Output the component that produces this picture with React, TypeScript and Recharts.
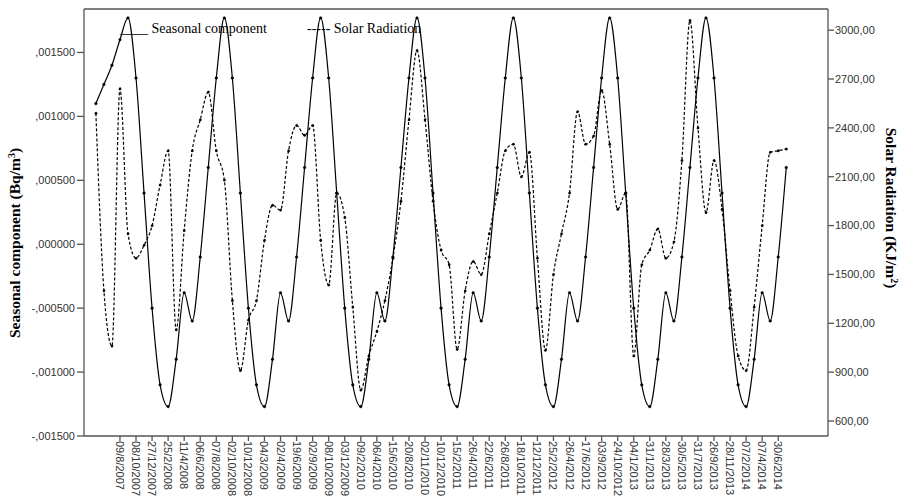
import { LineChart, Line, XAxis, YAxis, ReferenceLine } from 'recharts'

// sampling dates shown under the axis (every second sample, starting at the 4th)
const tickLabels = [
    '09/8/2007', '08/10/2007', '27/12/2007', '25/2/2008', '11/4/2008', '06/6/2008',
    '07/8/2008', '02/10/2008', '10/12/2008', '04/3/2009', '02/4/2009', '19/6/2009',
    '02/9/2009', '08/10/2009', '03/12/2009', '09/2/2010', '06/4/2010', '15/6/2010',
    '20/8/2010', '02/11/2010', '10/12/2010', '15/2/2011', '26/4/2011', '22/6/2011',
    '26/8/2011', '18/10/2011', '12/12/2011', '25/2/2012', '26/4/2012', '17/6/2012',
    '03/9/2012', '24/10/2012', '04/1/2013', '31/1/2013', '28/3/2013', '30/5/2013',
    '31/7/2013', '26/9/2013', '28/11/2013', '07/2/2014', '07/4/2014', '30/6/2014',
]

// seasonal component (Bq/m3)
const seasonal = [
    0.0011, 0.00125, 0.0014, 0.0016, 0.00177, 0.0013, 0.0004, -0.0005, -0.0011, -0.00127, -0.0009, -0.00038,
    -0.0006, -0.0001, 0.0006, 0.0013, 0.00177, 0.0013, 0.0004, -0.0005, -0.0011, -0.00127, -0.0009, -0.00038,
    -0.0006, -0.0001, 0.0006, 0.0013, 0.00177, 0.0013, 0.0004, -0.0005, -0.0011, -0.00127, -0.0009, -0.00038,
    -0.0006, -0.0001, 0.0006, 0.0013, 0.00177, 0.0013, 0.0004, -0.0005, -0.0011, -0.00127, -0.0009, -0.00038,
    -0.0006, -0.0001, 0.0006, 0.0013, 0.00177, 0.0013, 0.0004, -0.0005, -0.0011, -0.00127, -0.0009, -0.00038,
    -0.0006, -0.0001, 0.0006, 0.0013, 0.00177, 0.0013, 0.0004, -0.0005, -0.0011, -0.00127, -0.0009, -0.00038,
    -0.0006, -0.0001, 0.0006, 0.0013, 0.00177, 0.0013, 0.0004, -0.0005, -0.0011, -0.00127, -0.0009, -0.00038,
    -0.0006, -0.0001, 0.0006,
]

// solar radiation (KJ/m2)
const solar = [
    2490, 1400, 1060, 2640, 1750, 1600, 1680, 1800, 2050, 2260, 1160, 1770,
    2260, 2450, 2620, 2260, 2080, 1340, 910, 1220, 1340, 1710, 1925, 1895,
    2260, 2415, 2355, 2415, 1710, 1435, 2000, 1850, 1300, 790, 1000, 1150,
    1340, 1600, 1950, 2450, 2875, 2450, 1950, 1650, 1560, 1040, 1400, 1580,
    1500, 1750, 2000, 2260, 2300, 2100, 2250, 1600, 1035, 1500, 1750, 2000,
    2500, 2300, 2350, 2630, 2300, 1900, 2000, 1000, 1560, 1650, 1780, 1600,
    1700, 2200, 3060, 2400, 1880, 2200, 1900, 1400, 1000, 910, 1300, 1800,
    2250, 2260, 2270,
]

const leftTicks = [-0.0015, -0.001, -0.0005, 0, 0.0005, 0.001, 0.0015]
const rightTicks = [600, 900, 1200, 1500, 1800, 2100, 2400, 2700, 3000]

const data = seasonal.map((s, i) => ({ i, seasonal: s, solar: solar[i] }))
const xTicks = tickLabels.map((_, k) => 3 + 2 * k)

const frame = '#555'
const tickFont = { fontFamily: 'Liberation Sans, Arial, sans-serif', fontSize: 11, fill: '#333' }

const fmtLeft = (v: number) => {
    const n = Math.round(Math.abs(v) * 1e6)
    return (v < 0 ? '-' : '') + ',' + String(n).padStart(6, '0')
}

const DateTick = (props: any) => {
    const { x, y, payload } = props
    const label = tickLabels[(payload.value - 3) / 2]
    return (
        <text
            x={x}
            y={y}
            transform={`rotate(90, ${x}, ${y})`}
            textAnchor="start"
            dominantBaseline="central"
            {...tickFont}
        >
            {label}
        </text>
    )
}

const App = () => {
    return (
        <div style={{ position: 'absolute', left: 0, top: 0, width: 905, height: 499, background: '#fff' }}>
            <LineChart
                width={905}
                height={499}
                data={data}
                margin={{ top: 9, right: 0, bottom: 0, left: 0 }}
            >
                <XAxis
                    type="number"
                    dataKey="i"
                    domain={[-1.48, 91.2]}
                    ticks={xTicks}
                    interval={0}
                    height={63}
                    tick={<DateTick />}
                    tickSize={5}
                    tickMargin={0}
                    stroke={frame}
                    strokeWidth={1.3}
                />
                <YAxis
                    yAxisId="left"
                    domain={[-0.0015, 0.00184]}
                    ticks={leftTicks}
                    tickFormatter={fmtLeft}
                    width={84}
                    tickSize={7}
                    tickMargin={2}
                    tick={tickFont}
                    stroke={frame}
                    strokeWidth={1.3}
                    allowDataOverflow
                />
                <YAxis
                    yAxisId="right"
                    orientation="right"
                    domain={[508, 3130]}
                    ticks={rightTicks}
                    tickFormatter={(v: number) => `${v},00`}
                    width={77}
                    tickSize={6}
                    tickMargin={1}
                    tick={tickFont}
                    stroke={frame}
                    strokeWidth={1.3}
                    allowDataOverflow
                />
                <ReferenceLine yAxisId="left" y={0.00184} stroke={frame} strokeWidth={1.3} />
                <Line
                    yAxisId="left"
                    dataKey="seasonal"
                    type="monotone"
                    stroke="#000"
                    strokeWidth={1.2}
                    dot={{ r: 1.3, fill: '#000', stroke: '#000', strokeWidth: 0.5 }}
                    isAnimationActive={false}
                />
                <Line
                    yAxisId="right"
                    dataKey="solar"
                    type="monotone"
                    stroke="#000"
                    strokeWidth={1.2}
                    strokeDasharray="3 2"
                    dot={{ r: 1.2, fill: '#000', stroke: '#000', strokeWidth: 0.5 }}
                    isAnimationActive={false}
                />
            </LineChart>
            <svg
                width={905}
                height={499}
                style={{ position: 'absolute', left: 0, top: 0, pointerEvents: 'none' }}
                fontFamily="Liberation Serif, Times New Roman, serif"
            >
                <text x={120} y={33} fontSize={14} fill="#000">
                    ____ Seasonal component
                </text>
                <text x={307} y={33} fontSize={14} fill="#000">
                    ----- Solar Radiation
                </text>
                <text
                    x={20}
                    y={243}
                    transform="rotate(-90, 20, 243)"
                    textAnchor="middle"
                    fontSize={15.5}
                    fontWeight="bold"
                    fill="#000"
                >
                    Seasonal component (Bq/m<tspan dy={-5} fontSize={10}>3</tspan><tspan dy={5}>)</tspan>
                </text>
                <text
                    x={886}
                    y={208}
                    transform="rotate(90, 886, 208)"
                    textAnchor="middle"
                    fontSize={15.5}
                    fontWeight="bold"
                    fill="#000"
                >
                    Solar Radiation (KJ/m<tspan dy={-5} fontSize={10}>2</tspan><tspan dy={5}>)</tspan>
                </text>
            </svg>
        </div>
    )
}

export default App
